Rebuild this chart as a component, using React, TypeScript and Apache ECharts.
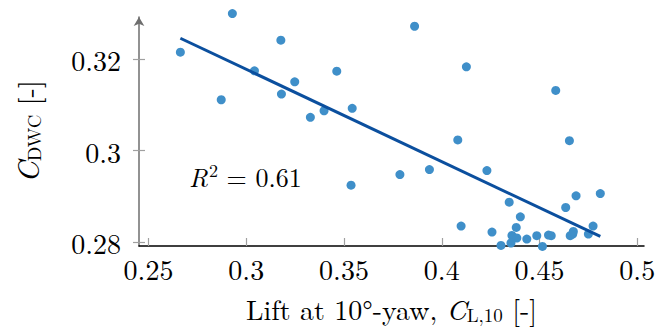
import React, { useEffect, useRef } from "react";
import * as echarts from "echarts";

const cl10 = [
  0.2663, 0.2929, 0.3177, 0.3042, 0.3248, 0.318, 0.2872, 0.3861, 0.4126, 0.3463,
  0.3328, 0.3398, 0.3542, 0.4583, 0.4082, 0.3937, 0.3786, 0.3536, 0.4099, 0.4653,
  0.4231, 0.4811, 0.4687, 0.4345, 0.4634, 0.4402, 0.4774, 0.4257, 0.4381, 0.4359,
  0.4384, 0.4435, 0.4486, 0.4546, 0.456, 0.4657, 0.467, 0.4673, 0.475, 0.4303,
  0.4354, 0.4515,
];
const cdwc = [
  0.32146, 0.32987, 0.32407, 0.31739, 0.315, 0.31233, 0.31109, 0.32711, 0.31826, 0.31733,
  0.30726, 0.3087, 0.30922, 0.31313, 0.30233, 0.29587, 0.29478, 0.29248, 0.28357, 0.30217,
  0.29565, 0.29065, 0.29015, 0.28878, 0.28761, 0.28559, 0.28357, 0.28226, 0.28326, 0.28152,
  0.28096, 0.28074, 0.28146, 0.28161, 0.28146, 0.28146, 0.28183, 0.28239, 0.28183, 0.27935,
  0.27987, 0.27913,
];
const fitX = [0.2663, 0.4811];
const fitY = [0.3245, 0.2813];
const xTicks = [0.25, 0.3, 0.35, 0.4, 0.45, 0.5];
const yTicks = [0.28, 0.3, 0.32];
const rSquared = "0.61";

const FONT = "'Latin Modern Roman', 'Liberation Serif', serif";

export default function App() {
  const ref = useRef<HTMLDivElement>(null);
  useEffect(() => {
    if (!ref.current) return;
    const chart = echarts.init(ref.current, null, { renderer: "svg" });
    const yMin = 0.27922;
    const yMax = 0.32913;
    chart.setOption({
      animation: false,
      grid: { left: 139, right: 14, top: 17, bottom: 83, containLabel: false, outerBoundsMode: "none" },
      xAxis: {
        type: "value",
        min: 0.24514,
        max: 0.50345,
        name: "{t|Lift at 10°-yaw, }{i|C}{s|L,10}{t| [-]}",
        nameLocation: "middle",
        nameGap: 45,
        nameMoveOverlap: false,
        nameTextStyle: {
          rich: {
            t: { fontFamily: FONT, fontSize: 28, color: "#000" },
            i: { fontFamily: FONT, fontSize: 28, fontStyle: "italic", color: "#000" },
            s: { fontFamily: FONT, fontSize: 19, color: "#000", padding: [14, 0, 0, 0] },
          },
        },
        splitLine: { show: false },
        axisLine: { show: true, lineStyle: { color: "#000", width: 1.5 } },
        axisTick: {
          show: true,
          inside: true,
          length: 8,
          customValues: xTicks,
          lineStyle: { color: "#a0a0a0", width: 1.2 },
        },
        axisLabel: {
          customValues: xTicks,
          margin: 8,
          fontFamily: FONT,
          fontSize: 28,
          color: "#000",
        },
      },
      yAxis: [
        {
          type: "value",
          position: "left",
          min: yMin,
          max: yMax,
          name: "{i|C}{s|DWC}{t| [-]}",
          nameLocation: "middle",
          nameRotate: 90,
          nameGap: 96,
          nameMoveOverlap: false,
          nameTextStyle: {
            rich: {
              t: { fontFamily: FONT, fontSize: 28, color: "#000" },
              i: { fontFamily: FONT, fontSize: 30, fontStyle: "italic", color: "#000" },
              s: { fontFamily: FONT, fontSize: 19, color: "#000", padding: [14, 0, 0, 0] },
            },
          },
          splitLine: { show: false },
          axisLine: {
            show: true,
            symbol: ["none", "arrow"],
            symbolSize: [8, 9],
            lineStyle: { color: "#6e6e6e", width: 1.5 },
          },
          axisTick: {
            show: true,
            inside: false,
            length: 6,
            customValues: yTicks,
            lineStyle: { color: "#a0a0a0", width: 1.2 },
          },
          axisLabel: {
            customValues: yTicks,
            margin: 18,
            fontFamily: FONT,
            fontSize: 28,
            color: "#000",
          },
        },
        {
          type: "value",
          position: "left",
          min: yMin,
          max: yMax,
          splitLine: { show: false },
          axisLine: { show: false },
          axisLabel: { show: false },
          axisTick: {
            show: true,
            inside: true,
            length: 6,
            customValues: yTicks,
            lineStyle: { color: "#a0a0a0", width: 1.2 },
          },
        },
      ],
      series: [
        {
          type: "scatter",
          data: cl10.map((x, i) => [x, cdwc[i]]),
          symbolSize: 9,
          clip: false,
          itemStyle: { color: "#3f8fc9", opacity: 1 },
          z: 2,
        },
        {
          type: "line",
          data: fitX.map((x, i) => [x, fitY[i]]),
          symbol: "none",
          clip: false,
          lineStyle: { color: "#0b4f9e", width: 3 },
          z: 3,
        },
      ],
      graphic: [
        {
          type: "text",
          left: 189,
          top: 160,
          style: {
            text: "{i|R}{p|2}{t| = " + rSquared + "}",
            rich: {
              i: { fontFamily: FONT, fontSize: 26, fontStyle: "italic", fill: "#000" },
              p: { fontFamily: FONT, fontSize: 18, fill: "#000", padding: [0, 0, 14, 1] },
              t: { fontFamily: FONT, fontSize: 26, fill: "#000" },
            },
          },
        },
      ],
    });
    return () => chart.dispose();
  }, []);
  return (
    <div
      ref={ref}
      style={{ position: "fixed", left: 0, top: 0, width: 658, height: 329, background: "#fff" }}
    />
  );
}
